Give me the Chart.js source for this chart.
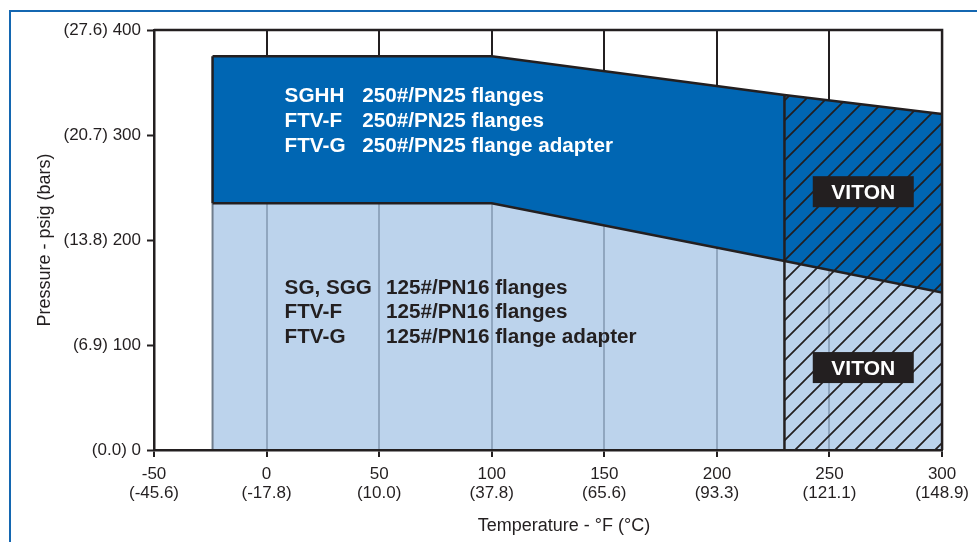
<!DOCTYPE html>
<html>
<head>
<meta charset="utf-8">
<script src="https://cdn.jsdelivr.net/npm/chart.js@4.4.1/dist/chart.umd.min.js"></script>
<style>
  html, body { margin: 0; padding: 0; background: #fff; }
  #wrap { position: relative; width: 977px; height: 542px; overflow: hidden; }
  #frame { position: absolute; left: 9px; top: 10px; width: 1100px; height: 700px; border: 2px solid #1467b1; }
  canvas { position: absolute; left: 0; top: 0; }
</style>
</head>
<body>
<div id="wrap">
  <div id="frame"></div>
  <canvas id="chart" width="977" height="542"></canvas>
</div>
<script>
const INK = '#231f20';
const DARK_BLUE = '#0066b3';
const LIGHT_BLUE = 'rgba(171, 200, 231, 0.8)'; // reads as #bcd3ec on white, lets the grid show through grey
const EDGE_GREY = '#6f7d8c';
const FONT = "'Liberation Sans', Arial, Helvetica, sans-serif";

const xTicks = [-50, 0, 50, 100, 150, 200, 250, 300];
const xTickLabels = [
    ['-50', '(-45.6)'], ['0', '(-17.8)'], ['50', '(10.0)'], ['100', '(37.8)'],
    ['150', '(65.6)'], ['200', '(93.3)'], ['250', '(121.1)'], ['300', '(148.9)'],
];
const yTicks = [0, 100, 200, 300, 400];
const yTickLabels = ['(0.0) 0', '(6.9) 100', '(13.8) 200', '(20.7) 300', '(27.6) 400'];

// rating curves: temperature (°F) -> pressure (psig)
const ratingTemps = [-24, 100, 230, 300];
const pressure250 = [375, 375, 338, 320];
const pressure125 = [235, 235, 180, 150];
const vitonFrom = 2; // index in ratingTemps where the Viton-only range starts

const upperLabels = [
    ['SGHH', '250#/PN25 flanges'],
    ['FTV-F', '250#/PN25 flanges'],
    ['FTV-G', '250#/PN25 flange adapter'],
];
const lowerLabels = [
    ['SG, SGG', '125#/PN16 flanges'],
    ['FTV-F', '125#/PN16 flanges'],
    ['FTV-G', '125#/PN16 flange adapter'],
];
const vitonLabel = 'VITON';

function pts(xs, ys) {
    return xs.map((x, i) => ({ x, y: ys[i] }));
}

function hatchPattern() {
    const s = 20;
    const c = document.createElement('canvas');
    c.width = s; c.height = s;
    const g = c.getContext('2d');
    g.strokeStyle = INK;
    g.lineWidth = 1.7;
    g.beginPath();
    g.moveTo(-2, s + 2); g.lineTo(s + 2, -2);
    g.moveTo(-s / 2, s / 2); g.lineTo(s / 2, -s / 2);
    g.moveTo(s / 2, s * 1.5); g.lineTo(s * 1.5, s / 2);
    g.stroke();
    const p = g.createPattern(c, 'repeat');
    p.setTransform(new DOMMatrix().translate(5, 0));
    return p;
}

const line = (data, color, width, extra) => Object.assign({
    data, borderColor: color, borderWidth: width, pointRadius: 0, tension: 0, fill: false,
}, extra || {});

const vitonTemps = ratingTemps.slice(vitonFrom);
const t0 = ratingTemps[0];
const tV = ratingTemps[vitonFrom];

const datasets = [
    // hatching over the Viton range
    line(pts(vitonTemps, pressure250.slice(vitonFrom)), 'transparent', 0,
        { fill: 'origin', backgroundColor: hatchPattern() }),
    // edge where the Viton range begins
    line([{ x: tV, y: 0 }, { x: tV, y: pressure250[vitonFrom] }], INK, 2.5),
    // 250# limit, filled down to the 125# limit
    line(pts(ratingTemps, pressure250), INK, 2.5, { fill: '+1', backgroundColor: DARK_BLUE }),
    // 125# limit, filled down to zero
    line(pts(ratingTemps, pressure125), INK, 2.3, { fill: 'origin', backgroundColor: LIGHT_BLUE }),
    // left edges
    line([{ x: t0, y: pressure125[0] }, { x: t0, y: pressure250[0] }], INK, 2.5),
    line([{ x: t0, y: 0 }, { x: t0, y: pressure125[0] }], EDGE_GREY, 2),
];

const notesPlugin = {
    id: 'notes',
    afterDatasetsDraw(chart) {
        const { ctx, chartArea: a, scales: { x, y } } = chart;
        ctx.save();
        // top and right sides of the plot frame
        ctx.strokeStyle = INK;
        ctx.lineWidth = 2.5;
        ctx.beginPath();
        ctx.moveTo(a.left, a.top);
        ctx.lineTo(a.right, a.top);
        ctx.lineTo(a.right, a.bottom);
        ctx.stroke();

        const size = 20.7;
        ctx.font = `bold ${size}px ${FONT}`;
        ctx.textBaseline = 'alphabetic';
        ctx.textAlign = 'left';
        const cap = size * 0.36;
        const rows = (labels, color, col1, col2, top, step) => {
            ctx.fillStyle = color;
            labels.forEach((r, i) => {
                const py = y.getPixelForValue(top) + i * step + cap;
                ctx.fillText(r[0], x.getPixelForValue(col1), py);
                ctx.fillText(r[1], x.getPixelForValue(col2), py);
            });
        };
        rows(upperLabels, '#ffffff', 8, 42.5, 338.5, 25);
        rows(lowerLabels, INK, 8, 53, 156, 24.5);

        // VITON tags, centred in the Viton range
        const cx = (x.getPixelForValue(tV) + x.getPixelForValue(ratingTemps[ratingTemps.length - 1])) / 2;
        ctx.font = `bold 21px ${FONT}`;
        ctx.textAlign = 'center';
        [246, 78.5].forEach(v => {
            const cy = y.getPixelForValue(v);
            ctx.fillStyle = INK;
            ctx.fillRect(cx - 50.5, cy - 15.5, 101, 31);
            ctx.fillStyle = '#ffffff';
            ctx.fillText(vitonLabel, cx, cy + 21 * 0.36);
        });

        // x axis title
        ctx.fillStyle = INK;
        ctx.font = `18px ${FONT}`;
        ctx.textAlign = 'center';
        ctx.textBaseline = 'middle';
        ctx.fillText('Temperature - °F (°C)', (a.left + a.right) / 2 + 16, 526);
        ctx.restore();
    },
};

new Chart(document.getElementById('chart'), {
    type: 'line',
    data: { datasets },
    options: {
        responsive: false,
        animation: false,
        layout: { padding: { top: 30, right: 34, left: 0, bottom: 0 } },
        plugins: {
            legend: { display: false },
            tooltip: { enabled: false },
            filler: { drawTime: 'beforeDatasetsDraw' },
        },
        scales: {
            x: {
                type: 'linear',
                min: -50, max: 300,
                afterBuildTicks: s => { s.ticks = xTicks.map(v => ({ value: v })); },
                afterFit: s => { s.height = 92; },
                grid: { color: INK, lineWidth: 2, tickLength: 7, tickColor: INK, tickWidth: 2 },
                border: { color: INK, width: 2.5, z: 1 },
                ticks: {
                    color: INK,
                    font: { family: FONT, size: 17, lineHeight: 1.1 },
                    padding: 8,
                    maxRotation: 0,
                    autoSkip: false,
                    callback: v => xTickLabels[xTicks.indexOf(v)],
                },
            },
            y: {
                min: 0, max: 400,
                afterBuildTicks: s => { s.ticks = yTicks.map(v => ({ value: v })); },
                afterFit: s => { s.width = 154; },
                grid: { drawOnChartArea: false, tickLength: 7, tickColor: INK, tickWidth: 2 },
                border: { color: INK, width: 2.5, z: 1 },
                ticks: {
                    color: INK,
                    font: { family: FONT, size: 17 },
                    padding: 6,
                    callback: v => yTickLabels[yTicks.indexOf(v)],
                },
                title: {
                    display: true,
                    text: 'Pressure - psig (bars)',
                    color: INK,
                    font: { family: FONT, size: 18 },
                    padding: { top: 34, bottom: 0 },
                },
            },
        },
    },
    plugins: [notesPlugin],
});
</script>
</body>
</html>
